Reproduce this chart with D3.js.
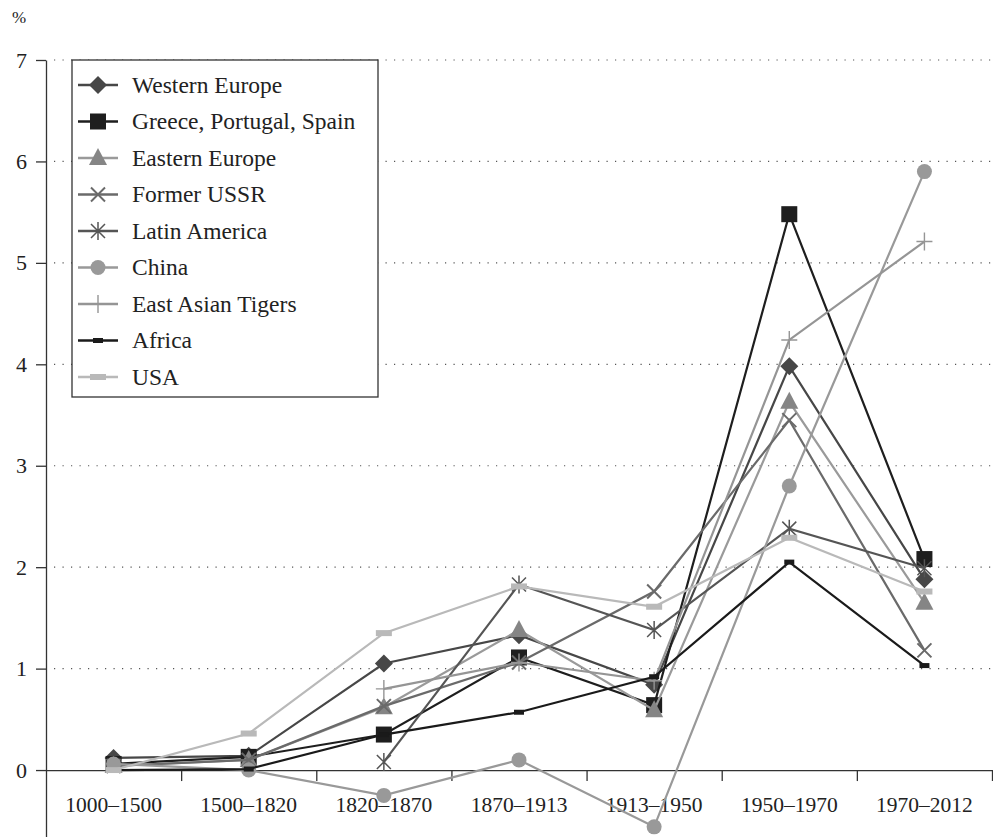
<!DOCTYPE html>
<html>
<head>
<meta charset="utf-8">
<script src="https://cdn.jsdelivr.net/npm/d3@7"></script>
<style>
  body { margin: 0; background: #fff; }
  text { font-family: 'Liberation Serif', 'Times New Roman', Times, serif; fill: #222; }
</style>
</head>
<body>
<div id="canvas"></div>
<script>
var periods = ['1000–1500', '1500–1820', '1820–1870', '1870–1913', '1913–1950', '1950–1970', '1970–2012']
var yTicks = [0, 1, 2, 3, 4, 5, 6, 7]

var westernEurope = [0.12, 0.14, 1.05, 1.33, 0.84, 3.98, 1.88]
var greecePortugalSpain = [0.06, 0.13, 0.35, 1.11, 0.64, 5.48, 2.08]
var easternEurope = [0.04, 0.10, 0.62, 1.38, 0.59, 3.63, 1.65]
var formerUSSR = [0.04, 0.10, 0.63, 1.06, 1.76, 3.45, 1.18]
var latinAmerica = [null, null, 0.08, 1.83, 1.38, 2.38, 1.99]
var china = [0.06, 0.00, -0.25, 0.10, -0.56, 2.80, 5.90]
var eastAsianTigers = [null, null, 0.80, 1.06, 0.88, 4.24, 5.21]
var africa = [0.00, 0.01, 0.35, 0.57, 0.92, 2.05, 1.03]
var usa = [0.00, 0.36, 1.35, 1.81, 1.61, 2.29, 1.76]

var seriesNames = ['Western Europe', 'Greece, Portugal, Spain', 'Eastern Europe', 'Former USSR',
  'Latin America', 'China', 'East Asian Tigers', 'Africa', 'USA'];

(function () {
  var series = [
    {name: seriesNames[0], values: westernEurope, line: '#474747', fill: '#474747', marker: 'diamond'},
    {name: seriesNames[1], values: greecePortugalSpain, line: '#1e1e1e', fill: '#1e1e1e', marker: 'square'},
    {name: seriesNames[2], values: easternEurope, line: '#9a9a9a', fill: '#858585', marker: 'triangle'},
    {name: seriesNames[3], values: formerUSSR, line: '#6a6a6a', fill: '#6a6a6a', marker: 'x'},
    {name: seriesNames[4], values: latinAmerica, line: '#555555', fill: '#555555', marker: 'star'},
    {name: seriesNames[5], values: china, line: '#999999', fill: '#999999', marker: 'circle'},
    {name: seriesNames[6], values: eastAsianTigers, line: '#959595', fill: '#959595', marker: 'plus'},
    {name: seriesNames[7], values: africa, line: '#1a1a1a', fill: '#1a1a1a', marker: 'dash'},
    {name: seriesNames[8], values: usa, line: '#b9b9b9', fill: '#b9b9b9', marker: 'wide'}
  ]

  var width = 993, height = 837
  var marginLeft = 46, marginRight = 992, marginTop = 60, marginBottom = 837

  var svg = d3.select('#canvas').append('svg')
    .attr('width', width)
    .attr('height', height)

  var x = d3.scaleBand().domain(periods).range([marginLeft, marginRight]).padding(0)
  var xEdge = d3.scaleLinear().domain([0, periods.length]).range([marginLeft, marginRight])
  var y = d3.scaleLinear().domain([-0.66, 7]).range([marginBottom, marginTop])

  // dotted grid
  svg.append('g').selectAll('line')
    .data(yTicks.filter(function (d) { return d > 0 }))
    .enter().append('line')
      .attr('x1', marginLeft + 8).attr('x2', width)
      .attr('y1', function (d) { return y(d) }).attr('y2', function (d) { return y(d) })
      .attr('stroke', '#555')
      .attr('stroke-width', 1.2)
      .attr('stroke-dasharray', '1.2,7.3')

  // y axis
  var yAxis = svg.append('g')
    .attr('transform', 'translate(' + marginLeft + ',0)')
    .call(d3.axisLeft(y).tickValues(yTicks).tickSize(10).tickSizeOuter(0).tickPadding(9).tickFormat(d3.format('d')))
  yAxis.selectAll('path, line').attr('stroke', '#333').attr('stroke-width', 1.3)
  yAxis.selectAll('text').attr('font-size', 22).attr('fill', '#222')

  // x axis: ticks at the period boundaries
  var xAxis = svg.append('g')
    .attr('transform', 'translate(0,' + y(0) + ')')
    .call(d3.axisBottom(xEdge).tickValues(d3.range(1, periods.length + 1)).tickSize(11).tickSizeOuter(0).tickFormat(''))
  xAxis.selectAll('path, line').attr('stroke', '#333').attr('stroke-width', 1.3)

  svg.append('g').selectAll('text')
    .data(periods)
    .enter().append('text')
      .attr('x', function (d) { return x(d) + x.bandwidth() / 2 })
      .attr('y', 812)
      .attr('text-anchor', 'middle')
      .attr('font-size', 21.5)
      .text(function (d) { return d })

  svg.append('text')
    .attr('x', 12).attr('y', 23)
    .attr('font-size', 17)
    .text('%')

  var drawMarker = function (g, type, color) {
    if (type === 'diamond') {
      g.append('path').attr('d', 'M0,-9L9,0L0,9L-9,0Z').attr('fill', color)
    } else if (type === 'square') {
      g.append('rect').attr('x', -8).attr('y', -8).attr('width', 16).attr('height', 16).attr('fill', color)
    } else if (type === 'triangle') {
      g.append('path').attr('d', 'M0,-10L9,7L-9,7Z').attr('fill', color)
    } else if (type === 'circle') {
      g.append('circle').attr('r', 7.5).attr('fill', color)
    } else if (type === 'x') {
      g.append('path').attr('d', 'M-7,-7L7,7M-7,7L7,-7').attr('stroke', color).attr('stroke-width', 2).attr('fill', 'none')
    } else if (type === 'star') {
      g.append('path').attr('d', 'M-7,-7L7,7M-7,7L7,-7M0,-9L0,9').attr('stroke', color).attr('stroke-width', 1.5).attr('fill', 'none')
    } else if (type === 'plus') {
      g.append('path').attr('d', 'M-8,0L8,0M0,-9L0,9').attr('stroke', color).attr('stroke-width', 1.4).attr('fill', 'none')
    } else if (type === 'dash') {
      g.append('rect').attr('x', -5).attr('y', -2.5).attr('width', 10).attr('height', 5).attr('fill', color)
    } else if (type === 'wide') {
      g.append('rect').attr('x', -8).attr('y', -3).attr('width', 16).attr('height', 6).attr('fill', color)
    }
  }

  var line = d3.line()
    .defined(function (d) { return d.v !== null })
    .x(function (d) { return x(d.p) + x.bandwidth() / 2 })
    .y(function (d) { return y(d.v) })

  series.forEach(function (s) {
    var pts = s.values.map(function (v, i) { return {p: periods[i], v: v} })
    var g = svg.append('g')
    g.append('path')
      .datum(pts)
      .attr('d', line)
      .attr('fill', 'none')
      .attr('stroke', s.line)
      .attr('stroke-width', 2.2)
    pts.filter(function (d) { return d.v !== null }).forEach(function (d) {
      var m = g.append('g').attr('transform', 'translate(' + (x(d.p) + x.bandwidth() / 2) + ',' + y(d.v) + ')')
      drawMarker(m, s.marker, s.fill)
    })
  })

  // legend
  var legend = svg.append('g')
  legend.append('rect')
    .attr('x', 72).attr('y', 60).attr('width', 306).attr('height', 337)
    .attr('fill', '#fff').attr('stroke', '#333').attr('stroke-width', 1.3)

  var rows = legend.selectAll('g.row')
    .data(series)
    .enter().append('g')
      .attr('class', 'row')
      .attr('transform', function (d, i) { return 'translate(0,' + (85 + i * 36.5) + ')' })

  rows.append('line')
    .attr('x1', 78).attr('x2', 118)
    .attr('stroke', function (d) { return d.line })
    .attr('stroke-width', 2.4)
  rows.each(function (d) {
    drawMarker(d3.select(this).append('g').attr('transform', 'translate(98,0)'), d.marker, d.fill)
  })
  rows.append('text')
    .attr('x', 132).attr('y', 7.5)
    .attr('font-size', 23.5)
    .text(function (d) { return d.name })
})()
</script>
</body>
</html>
